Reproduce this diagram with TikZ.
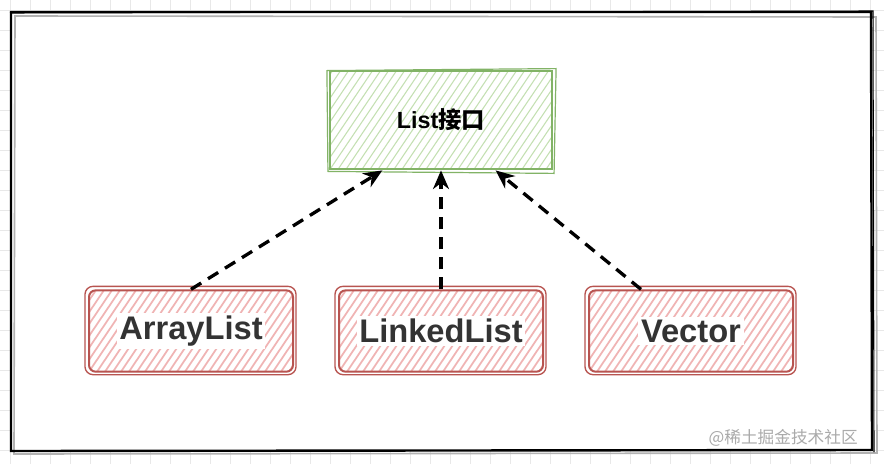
\documentclass[tikz,border=0pt]{standalone}
\usepackage{fontspec}
\setmainfont{Liberation Sans}
\newfontfamily\cjkfont{Noto Sans CJK SC}
\usetikzlibrary{arrows.meta,calc}
\definecolor{gridc}{HTML}{E8E8E8}
\definecolor{greenc}{HTML}{82B366}
\definecolor{greenh}{HTML}{C4E0B2}
\definecolor{redc}{HTML}{B85450}
\definecolor{redh}{HTML}{F0B4B4}
\definecolor{txtc}{HTML}{333333}
\definecolor{wmc}{HTML}{AAAAAA}
\tikzset{
  hatchbox/.style={path picture={
    \foreach \i in {-12,...,32}
      \draw[#1] ($(path picture bounding box.south west)+(\i*8,0)$) -- ++(56:200pt);}},
  greenbox/.style={draw=greenc, line width=1.6pt, minimum width=166.5pt, minimum height=74pt,
    hatchbox={greenh, line width=0.8pt}},
  redbox/.style={draw=redc, line width=1.5pt, rounded corners=5pt, minimum width=153pt, minimum height=61pt,
    hatchbox={redh, line width=1.3pt}},
  redlbl/.style={fill=white, inner sep=2pt, text=txtc, font=\bfseries\fontsize{24.5}{29}\selectfont},
  greenlbl/.style={inner sep=2pt, text=black, font=\bfseries\fontsize{17.5}{21}\selectfont},
  dep/.style={draw=black, line width=2.5pt, dash pattern=on 9pt off 6pt, -{Stealth[length=14pt,width=12pt]}},
  wm/.style={text=wmc, font=\cjkfont\fontsize{12.5}{15}\selectfont, inner sep=0pt}
}
\begin{document}
\begin{tikzpicture}[x=0.75pt,y=-0.75pt]
\useasboundingbox (0,0) rectangle (884,464);
% grid
\foreach \x in {10,30,...,870} \draw[gridc, line width=0.6pt] (\x,0) -- (\x,464);
\foreach \y in {10,30,...,450} \draw[gridc, line width=0.6pt] (0,\y) -- (884,\y);
% frame
\fill[white] (11,12) rectangle (872,450);
\draw[black!30, line width=1.2pt] (15,16) -- (876,17) -- (877,453) -- (14,454) -- cycle;
\draw[black, line width=1.8pt] (11,12) -- (871,12) -- (872,450) -- (11,451) -- cycle;
\draw[black, line width=0.8pt] (10,13) -- (873,11) -- (874,452);
% boxes
\node[greenbox] (list) at (441,120) {};
\draw[greenc, line width=0.9pt] ([shift={(-2,1)}]list.north west) -- ([shift={(3,-1)}]list.north east) -- ([shift={(1,3)}]list.south east) -- ([shift={(-1,1)}]list.south west) -- cycle;
\node[greenlbl] (listt) at (list) {List{\cjkfont\bfseries 接口}};

\node[redbox] (arr) at (191,331) {};
\node[redbox] (lnk) at (441,331) {};
\node[redbox] (vec) at (691,331) {};
\foreach \b in {arr,lnk,vec}
  \draw[redc, line width=1pt, rounded corners=6pt] ([shift={(-3,2)}]\b.south west) rectangle ([shift={(2,-3)}]\b.north east);
\node[redlbl] (arrt) at (arr) {ArrayList};
\node[redlbl] (lnkt) at (lnk) {LinkedList};
\node[redlbl] (vect) at (vec) {Vector};

% dependencies
\draw[dep] (arr.north) -- ([xshift=-44pt]list.south);
\draw[dep] (lnk.north) -- (list.south);
\draw[dep] ([xshift=-37.5pt]vec.north) -- ([xshift=41pt]list.south);

% watermark
\node[wm, anchor=east] (wmk) at (858,438) {@稀土掘金技术社区};
\end{tikzpicture}
\end{document}
